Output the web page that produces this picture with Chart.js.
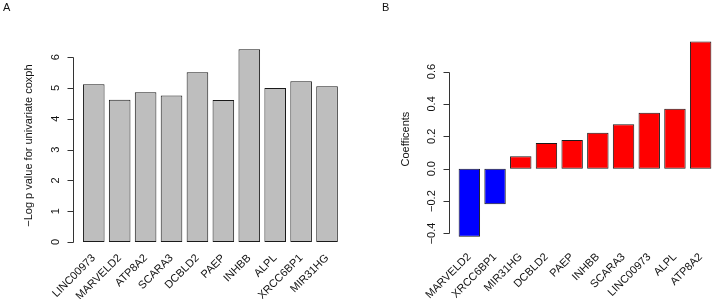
<!DOCTYPE html>
<html>
<head>
<meta charset="utf-8">
<script src="https://cdn.jsdelivr.net/npm/chart.js@4.4.0/dist/chart.umd.min.js"></script>
<style>
  html, body { margin: 0; padding: 0; background: #fff; }
  #wrap { position: relative; width: 716px; height: 299px; overflow: hidden; }
  canvas { position: absolute; top: 0; }
  #panelA { left: 0; }
  #panelB { left: 358px; }
  .tag { position: absolute; top: 1px; font: 11px "Liberation Sans", Arial, sans-serif; color: #111; }
</style>
</head>
<body>
<div id="wrap">
  <canvas id="panelA" width="358" height="299"></canvas>
  <canvas id="panelB" width="358" height="299"></canvas>
  <div class="tag" style="left:3px">A</div>
  <div class="tag" style="left:382px">B</div>
</div>
<script>
// panel A: -log p of univariate coxph per gene
var genesA = ['LINC00973', 'MARVELD2', 'ATP8A2', 'SCARA3', 'DCBLD2', 'PAEP', 'INHBB', 'ALPL', 'XRCC6BP1', 'MIR31HG'];
var logP = [5.12, 4.62, 4.86, 4.76, 5.51, 4.61, 6.26, 5.00, 5.22, 5.06];
var ticksA = [0, 1, 2, 3, 4, 5, 6];
var tickLabelsA = ['0', '1', '2', '3', '4', '5', '6'];

// panel B: coefficients, sorted low to high
var genesB = ['MARVELD2', 'XRCC6BP1', 'MIR31HG', 'DCBLD2', 'PAEP', 'INHBB', 'SCARA3', 'LINC00973', 'ALPL', 'ATP8A2'];
var coefs = [-0.42, -0.22, 0.077, 0.159, 0.177, 0.222, 0.274, 0.346, 0.37, 0.786];
var ticksB = [-0.4, -0.2, 0, 0.2, 0.4, 0.6];
var tickLabelsB = ['\u22120.4', '\u22120.2', '0.0', '0.2', '0.4', '0.6'];

var FONT = '"Liberation Sans", Arial, sans-serif';

// R style y axis: line only between first and last tick, sitting a bit left of the bars
var rAxis = {
    id: 'rAxis',
    afterDraw: function (chart, args, opts) {
        var ctx = chart.ctx;
        var y = chart.scales.y;
        var area = chart.chartArea;
        var ax = Math.round(area.left - opts.gap) + 0.5;
        ctx.save();
        ctx.strokeStyle = '#333';
        ctx.lineWidth = 1;
        ctx.beginPath();
        ctx.moveTo(ax, Math.round(y.getPixelForValue(opts.ticks[0])) + 0.5);
        ctx.lineTo(ax, Math.round(y.getPixelForValue(opts.ticks[opts.ticks.length - 1])) + 0.5);
        opts.ticks.forEach(function (v) {
            var py = Math.round(y.getPixelForValue(v)) + 0.5;
            ctx.moveTo(ax, py);
            ctx.lineTo(ax - 6, py);
        });
        ctx.stroke();

        ctx.fillStyle = '#111';
        ctx.font = '11px ' + FONT;
        ctx.textAlign = 'center';
        ctx.textBaseline = 'middle';
        opts.ticks.forEach(function (v, i) {
            ctx.save();
            ctx.translate(ax - 18, y.getPixelForValue(v));
            ctx.rotate(-Math.PI / 2);
            ctx.fillText(opts.labels[i], 0, 0);
            ctx.restore();
        });
        ctx.translate(ax - opts.titleGap, (area.top + area.bottom) / 2);
        ctx.rotate(-Math.PI / 2);
        ctx.fillText(opts.title, 0, 0);
        ctx.restore();
    }
};

function xScale(height, pad) {
    return {
        grid: { display: false, drawTicks: false },
        border: { display: false },
        ticks: {
            minRotation: 45,
            maxRotation: 45,
            autoSkip: false,
            padding: pad,
            color: '#111',
            font: { family: FONT, size: 11 }
        },
        afterFit: function (s) { s.height = height; }
    };
}

var chartA = new Chart(document.getElementById('panelA'), {
    type: 'bar',
    data: {
        labels: genesA,
        datasets: [{
            data: logP,
            backgroundColor: '#bebebe',
            borderColor: '#1a1a1a',
            borderWidth: 1,
            borderSkipped: false,
            barPercentage: 1,
            categoryPercentage: 1 / 1.2
        }]
    },
    options: {
        responsive: false,
        animation: false,
        devicePixelRatio: 1,
        layout: { padding: { left: 80.8, right: 18, top: 41.5, bottom: 0 } },
        plugins: {
            legend: { display: false },
            tooltip: { enabled: false },
            rAxis: { ticks: ticksA, labels: tickLabelsA, gap: 8, titleGap: 45,
                title: '\u2212Log p value for univariate coxph' }
        },
        scales: {
            x: xScale(49.3, 2),
            y: { display: false, min: -0.25, max: 6.51 }
        }
    },
    plugins: [rAxis]
});

var chartB = new Chart(document.getElementById('panelB'), {
    type: 'bar',
    data: {
        labels: genesB,
        datasets: [{
            data: coefs,
            backgroundColor: coefs.map(function (v) { return v < 0 ? '#0000ff' : '#ff0000'; }),
            borderColor: '#1a1a1a',
            borderWidth: 1,
            borderSkipped: false,
            barPercentage: 1,
            categoryPercentage: 1 / 1.2
        }]
    },
    options: {
        responsive: false,
        animation: false,
        devicePixelRatio: 1,
        layout: { padding: { left: 98.5, right: 0.5, top: 33.6, bottom: 0 } },
        plugins: {
            legend: { display: false },
            tooltip: { enabled: false },
            rAxis: { ticks: ticksB, labels: tickLabelsB, gap: 8, titleGap: 44, title: 'Coefficents' }
        },
        scales: {
            x: xScale(54.5, 6),
            y: { display: false, min: -0.468, max: 0.834 }
        }
    },
    plugins: [rAxis]
});
</script>
</body>
</html>
